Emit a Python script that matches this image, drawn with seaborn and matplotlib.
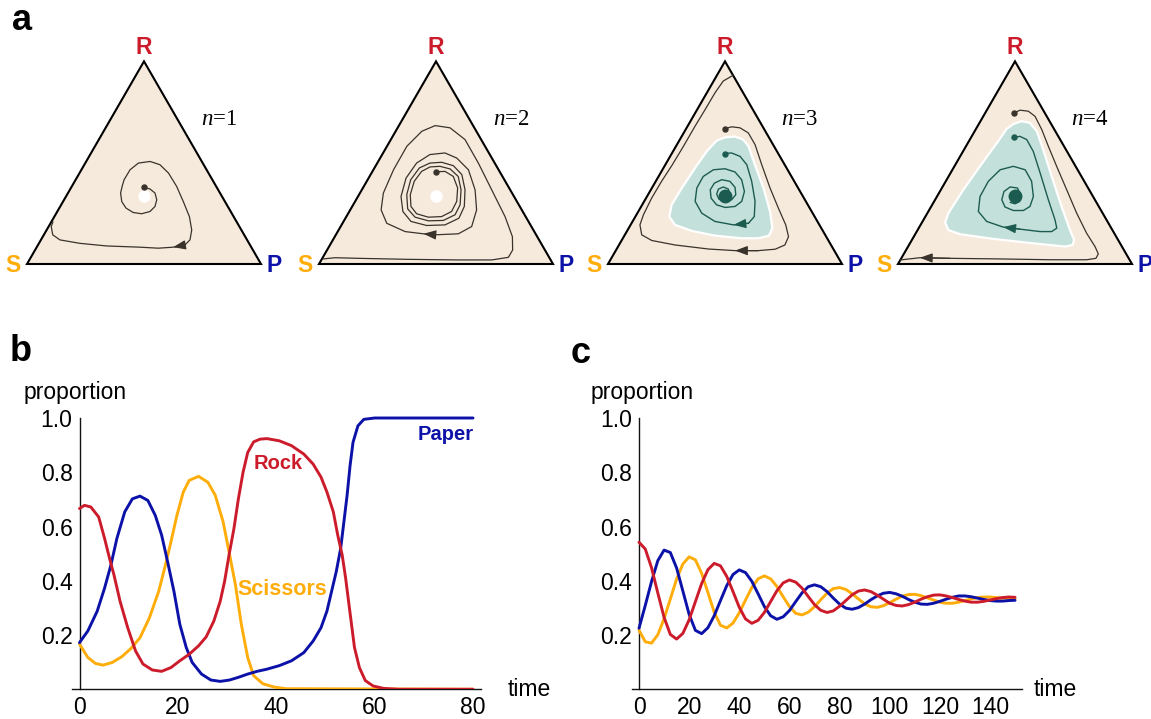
import numpy as np
import pandas as pd
import matplotlib as mpl
mpl.use("Agg")
import matplotlib.pyplot as plt
from matplotlib.patches import Polygon
from matplotlib.ticker import MultipleLocator, FixedLocator, FormatStrFormatter
import seaborn as sns

# ---------------- data ----------------
# panel a: trajectories in the simplex as (rock share, paper share)
R_N1 = [.378, .370, .350, .317, .284, .259, .248, .254, .276, .308, .350, .383, .416, .465, .498, .506, .490,
        .449, .383, .308, .234, .168, .119, .094, .083, .078, .083, .089, .102, .119, .144, .185, .208]
P_N1 = [.311, .341, .372, .396, .405, .396, .366, .327, .285, .251, .225, .215, .207, .208, .227, .273, .323,
        .380, .448, .514, .577, .620, .637, .628, .583, .522, .441, .296, .175, .081, .038, .011, .007]

R_N2 = [.455, .457, .432, .375, .309, .259, .234, .231, .248, .284, .342, .408, .457, .479, .482, .469, .432, .366,
        .292, .243, .215, .213, .231, .272, .342, .416, .474, .498, .502, .485, .441, .366,
        .284, .226, .193, .190, .210, .259, .333, .424, .498, .540, .548, .523, .465, .366,
        .267, .185, .149, .144, .149, .160, .201, .267, .350, .465, .581, .655, .683, .672, .614, .498, .366,
        .234, .135, .069, .033, .020, .020, .023, .028, .031, .025]
P_N2 = [.272, .310, .358, .405, .434, .437, .407, .352, .293, .251, .219, .203, .210, .235, .276, .326, .379, .424,
        .457, .460, .424, .361, .295, .243, .204, .184, .192, .225, .273, .332, .390, .441,
        .479, .485, .442, .365, .288, .229, .184, .160, .168, .204, .264, .327, .406, .484,
        .540, .560, .521, .424, .372, .288, .189, .132, .100, .086, .085, .112, .155, .224, .317, .432, .555,
        .678, .759, .793, .793, .728, .585, .371, .154, .053, .005]

R_N3 = [.668, .677, .672, .647, .589, .490, .375, .276, .193, .135, .094, .073, .066, .066, .074, .094, .116, .144,
        .193, .243, .325, .408, .490, .581, .680, .762, .845, .903, .931]
P_N3 = [.166, .190, .228, .276, .334, .412, .505, .590, .663, .704, .709, .678, .609, .510, .392, .239, .129, .072,
        .040, .030, .024, .025, .030, .032, .032, .034, .035, .041, .069]
R_N3_BASIN = [.625, .629, .614, .581, .490, .375, .259, .177, .140, .127, .127, .140, .163, .193, .234, .292, .375,
              .474, .556, .609]
P_N3_BASIN = [.188, .228, .271, .310, .383, .477, .563, .614, .618, .579, .508, .387, .277, .190, .145, .126, .128,
              .135, .144, .160]
R_N3_IN = [.545, .548, .531, .490, .408, .309, .234, .201, .193, .210, .251, .309, .375, .432, .465, .470, .454, .416,
           .358, .309, .284, .279, .292, .325, .366, .399, .416, .408, .378, .342, .317, .309, .320, .345, .370, .380,
           .370, .347]
P_N3_IN = [.228, .254, .299, .348, .410, .474, .508, .500, .440, .352, .275, .218, .192, .191, .218, .265, .316, .363,
           .404, .417, .401, .361, .318, .278, .254, .255, .278, .317, .354, .375, .370, .346, .314, .292, .287, .303,
           .329, .348]

R_N4 = [.746, .759, .754, .729, .663, .581, .482, .366, .251, .152, .086, .050, .028, .021, .021, .025, .028, .031, .020]
P_N4 = [.124, .142, .180, .221, .283, .352, .437, .538, .638, .730, .799, .831, .832, .796, .639, .424, .208, .078, .000]
R_N4_BASIN = [.691, .705, .696, .655, .564, .432, .284, .168, .119, .094, .086, .102, .124, .147, .168, .205, .251,
              .366, .482, .597, .667]
P_N4_BASIN = [.148, .176, .216, .266, .339, .441, .557, .651, .693, .699, .671, .527, .345, .192, .131, .099, .090,
              .096, .109, .124, .131]
R_N4_IN = [.625, .630, .614, .556, .449, .317, .218, .177, .160, .160, .172, .182, .210, .259, .333, .408, .465, .482,
           .465, .408, .333, .284, .264, .264, .281, .317, .358, .380, .375, .342, .309, .297, .304]
P_N4_IN = [.185, .206, .243, .300, .383, .484, .562, .590, .577, .527, .435, .359, .274, .214, .184, .182, .204, .252,
           .311, .367, .412, .422, .404, .361, .317, .285, .274, .289, .323, .353, .365, .352, .327]

N_LABELS = ["1", "2", "3", "4"]

# panel b: time series (own time points per species)
ROCK_T_B = [0, 1, 2.3, 3.9, 5.1, 6.1, 7, 8.25, 9.8, 11.4, 12.9, 14.8, 16.7, 18.6, 20.4, 22.3, 24.2, 25.75, 27.3,
            28.6, 29.5, 30.4, 31.4, 32.3, 33.25, 34.2, 35.4, 36.7, 38.1, 40.6, 43.1, 45.6, 47.5, 49.1, 50.3, 51.6,
            52.5, 53.4, 54.1, 54.7, 55.3, 55.9, 56.9, 58.1, 59.7, 61.9, 65, 80]
ROCK_B = [.666, .678, .672, .635, .556, .483, .422, .324, .227, .141, .093, .071, .066, .080, .105, .129, .160, .193,
          .251, .324, .398, .495, .593, .702, .800, .873, .912, .922, .924, .916, .898, .867, .830, .782, .727, .654,
          .568, .495, .410, .324, .239, .154, .080, .032, .012, .003, 0, 0]
PAPER_T_B = [0, 1.7, 3.6, 5.1, 6.4, 7.6, 9.2, 10.75, 12.3, 13.9, 15.4, 16.7, 17.9, 19.2, 20.4, 21.7, 22.9, 24.8,
             26.7, 28.6, 30.5, 32.3, 34.2, 36.1, 38.1, 40.6, 43.1, 45.6, 47.5, 49.1, 50.3, 51.25, 52.2, 53.1, 53.75,
             54.4, 55, 55.6, 56.6, 57.8, 60, 80]
PAPER_B = [.172, .215, .288, .373, .459, .556, .654, .702, .712, .696, .641, .568, .471, .361, .239, .154, .099, .056,
           .034, .029, .034, .044, .056, .066, .074, .087, .105, .135, .178, .227, .288, .361, .434, .520, .617,
           .715, .824, .910, .971, .995, 1.0, 1.0]
SCISSORS_T_B = [0, 1.7, 3.25, 4.8, 6.7, 8.6, 10.5, 12.3, 14.2, 16.1, 17.3, 18.6, 19.8, 21.1, 22.3, 24.2, 26.1, 27.6,
                29.2, 30.4, 31.7, 32.9, 34.2, 35.4, 37.3, 39.6, 42, 80]
SCISSORS_B = [.166, .117, .095, .089, .099, .120, .151, .190, .263, .361, .446, .544, .641, .727, .770, .785, .763,
              .715, .617, .507, .385, .239, .117, .050, .020, .008, .002, 0]

# panel c: time series on a common grid (every 2.5 time units, 0..150)
TIME_C = np.arange(0, 150.1, 2.5)
ROCK_C = [.542, .517, .448, .355, .265, .202, .185, .206, .256, .323,
          .390, .441, .464, .455, .416, .360, .302, .259, .243, .254,
          .283, .323, .363, .392, .403, .395, .373, .342, .312, .291,
          .283, .289, .306, .327, .348, .362, .366, .360, .347, .332,
          .317, .309, .307, .312, .321, .332, .341, .347, .348, .344,
          .338, .331, .325, .321, .321, .324, .329, .334, .338, .340, .339]
PAPER_C = [.225, .309, .397, .474, .513, .504, .447, .362, .276, .217,
           .205, .227, .271, .327, .382, .423, .440, .430, .398, .352,
           .305, .271, .258, .267, .290, .323, .355, .378, .385, .378,
           .360, .336, .314, .299, .295, .301, .314, .330, .344, .354,
           .357, .352, .343, .331, .321, .314, .313, .317, .324, .332,
           .339, .344, .344, .341, .336, .331, .327, .325, .325, .327, .328]
SCISSORS_C = [.218, .175, .170, .201, .260, .333, .406, .462, .488, .477,
              .427, .356, .284, .236, .226, .244, .282, .329, .375, .407,
              .418, .407, .379, .341, .305, .280, .274, .284, .304, .330,
              .354, .371, .375, .368, .352, .333, .315, .304, .302, .308,
              .319, .332, .343, .349, .350, .345, .337, .329, .321, .317,
              .317, .321, .327, .333, .338, .340, .340, .338, .336, .335, .335]

# ---------------- style ----------------
RED = "#cc1c2c"
BLUE = "#0c12a8"
ORANGE = "#ffad0a"
BEIGE = "#f6eadc"
TEAL_FILL = "#c4e0da"
TEAL = "#1c5c50"
BROWN = "#3a332c"
PALETTE = {"Rock": RED, "Paper": BLUE, "Scissors": ORANGE}

sns.set_style("white")
plt.rcParams['font.family'] = ['Liberation Sans', 'DejaVu Sans']
plt.rcParams['text.color'] = 'black'
plt.rcParams['xtick.color'] = 'black'
plt.rcParams['ytick.color'] = 'black'
plt.rcParams['mathtext.fontset'] = 'custom'
plt.rcParams['mathtext.it'] = 'Liberation Serif:italic'
plt.rcParams['mathtext.rm'] = 'Liberation Serif'

W, H = 1151, 719
fig = plt.figure(figsize=(W / 100, H / 100), dpi=100)


def px_axes(left, top, width, height):
    return fig.add_axes([left / W, 1 - (top + height) / H, width / W, height / H])


def fx(x):
    return x / W


def fy(y):
    return 1 - y / H


SQ3 = np.sqrt(3) / 2


def tern(r, p):
    r = np.asarray(r, dtype=float)
    p = np.asarray(p, dtype=float)
    return p + r / 2, r * SQ3


def arrow(ax, xs, ys, k, color):
    ax.annotate("", xy=(xs[k + 1], ys[k + 1]), xytext=(xs[k], ys[k]),
                arrowprops=dict(arrowstyle="-|>,head_length=0.75,head_width=0.28",
                                color=color, lw=0.9, shrinkA=0, shrinkB=0,
                                mutation_scale=10), zorder=6)


##########
# PANEL a
##########
S_LEFT = [27, 319, 608, 898]
outer = [(R_N1, P_N1, 23), (R_N2, P_N2, 49), (R_N3, P_N3, 12), (R_N4, P_N4, 16)]
basins = [None, None, (R_N3_BASIN, P_N3_BASIN, R_N3_IN, P_N3_IN, 7),
          (R_N4_BASIN, P_N4_BASIN, R_N4_IN, P_N4_IN, 10)]

for i, sx in enumerate(S_LEFT):
    ax = px_axes(sx - 25, 30, 285, 260)
    ax.set_xlim(-25 / 234, 260 / 234)
    ax.set_ylim(-26 / 234, 1.0)
    ax.axis("off")
    tri = Polygon([(0, 0), (1, 0), (0.5, SQ3)], closed=True, facecolor=BEIGE,
                  edgecolor="black", lw=1.5, joinstyle="miter", zorder=1)
    ax.add_patch(tri)

    if basins[i] is not None:
        rb, pb, ri, pi_, ka = basins[i]
        bx, by = tern(rb, pb)
        ax.add_patch(Polygon(np.column_stack([bx, by]), closed=True, facecolor=TEAL_FILL,
                             edgecolor="white", lw=1.6, joinstyle="round", zorder=2))
        ix, iy = tern(ri, pi_)
        sns.lineplot(x=ix, y=iy, sort=False, estimator=None, color=TEAL, lw=1.0, ax=ax, zorder=4)
        ax.plot(ix[0], iy[0], "o", ms=3.6, color=TEAL, zorder=5)
        arrow(ax, ix, iy, ka, TEAL)
        cx, cy = tern([1 / 3], [1 / 3])
        ax.plot(cx, cy, "o", ms=9, color=TEAL, zorder=5)
    else:
        cx, cy = tern([1 / 3], [1 / 3])
        ax.plot(cx, cy, "o", ms=8, color="white", mec="white", zorder=5)

    ro, po, ko = outer[i]
    ox, oy = tern(ro, po)
    sns.lineplot(x=ox, y=oy, sort=False, estimator=None, color=BROWN, lw=0.9, ax=ax, zorder=4)
    ax.plot(ox[0], oy[0], "o", ms=3.6, color=BROWN, zorder=5)
    arrow(ax, ox, oy, ko, BROWN)

    ax.text(0.5, 0.925, "R", color=RED, fontsize=16.5, fontweight="bold", ha="center", va="center")
    ax.text(-0.058, -0.006, "S", color=ORANGE, fontsize=16.5, fontweight="bold", ha="center", va="center")
    ax.text(1.058, -0.006, "P", color=BLUE, fontsize=16.5, fontweight="bold", ha="center", va="center")
    ax.text(0.82, 0.617, r"$n$=" + N_LABELS[i], fontsize=16.5, family="Liberation Serif",
            ha="center", va="center")


##########
# PANELS b, c
##########
def style_axes(ax, xmajor, xminor, xlim):
    ax.set_xlim(*xlim)
    ax.set_ylim(0, 1.03)
    for s in ["top", "right"]:
        ax.spines[s].set_visible(False)
    ax.spines["left"].set_position(("data", 0))
    ax.spines["bottom"].set_position(("data", 0))
    ax.spines["left"].set_bounds(0, 1.0)
    for s in ["left", "bottom"]:
        ax.spines[s].set_color("#111111")
        ax.spines[s].set_linewidth(1.0)
        ax.spines[s].set_zorder(1)
    ax.xaxis.set_major_locator(MultipleLocator(xmajor))
    ax.xaxis.set_minor_locator(MultipleLocator(xminor))
    ax.yaxis.set_major_locator(FixedLocator([0.2, 0.4, 0.6, 0.8, 1.0]))
    ax.yaxis.set_minor_locator(FixedLocator([i * 0.05 for i in range(1, 21)]))
    ax.yaxis.set_major_formatter(FormatStrFormatter("%.1f"))
    ax.tick_params(which="major", direction="in", length=5, width=0.9, labelsize=16.5,
                   color="#111111", pad=5)
    ax.tick_params(which="minor", direction="in", length=3, width=0.8, color="#111111")
    ax.set_xlabel("")
    ax.set_ylabel("")
    ax.patch.set_alpha(0)


# panel b
df_b = pd.concat([
    pd.DataFrame({"time": SCISSORS_T_B, "proportion": SCISSORS_B, "species": "Scissors"}),
    pd.DataFrame({"time": PAPER_T_B, "proportion": PAPER_B, "species": "Paper"}),
    pd.DataFrame({"time": ROCK_T_B, "proportion": ROCK_B, "species": "Rock"}),
], ignore_index=True)

x0_b, ppu_b = 79.5, 4.919
xlim_b = (-1.6, 81.6)
axb = px_axes(x0_b + xlim_b[0] * ppu_b, 689.25 - 1.03 * 271.25,
              (xlim_b[1] - xlim_b[0]) * ppu_b, 1.03 * 271.25)
sns.lineplot(data=df_b, x="time", y="proportion", hue="species", palette=PALETTE,
             hue_order=["Scissors", "Paper", "Rock"], estimator=None, lw=2.1,
             legend=False, ax=axb, zorder=3)
style_axes(axb, 20, 5, xlim_b)
axb.text(40.4, 0.834, "Rock", color=RED, fontsize=14.5, fontweight="bold", ha="center", va="center")
axb.text(41.2, 0.369, "Scissors", color=ORANGE, fontsize=15.5, fontweight="bold", ha="center", va="center")
axb.text(74.5, 0.941, "Paper", color=BLUE, fontsize=14.5, fontweight="bold", ha="center", va="center")

# panel c
df_c = pd.concat([
    pd.DataFrame({"time": TIME_C, "proportion": SCISSORS_C, "species": "Scissors"}),
    pd.DataFrame({"time": TIME_C, "proportion": PAPER_C, "species": "Paper"}),
    pd.DataFrame({"time": TIME_C, "proportion": ROCK_C, "species": "Rock"}),
], ignore_index=True)

x0_c, ppu_c = 639, 2.507
xlim_c = (-2.8, 152.8)
axc = px_axes(x0_c + xlim_c[0] * ppu_c, 689.25 - 1.03 * 271.25,
              (xlim_c[1] - xlim_c[0]) * ppu_c, 1.03 * 271.25)
sns.lineplot(data=df_c, x="time", y="proportion", hue="species", palette=PALETTE,
             hue_order=["Scissors", "Paper", "Rock"], estimator=None, lw=2.1,
             legend=False, ax=axc, zorder=3)
style_axes(axc, 20, 5, xlim_c)

# axis captions and panel letters
fig.text(fx(24), fy(393), "proportion", fontsize=16.5, ha="left", va="center")
fig.text(fx(591), fy(393), "proportion", fontsize=16.5, ha="left", va="center")
fig.text(fx(508), fy(689), "time", fontsize=16.5, ha="left", va="center")
fig.text(fx(1034), fy(689), "time", fontsize=16.5, ha="left", va="center")
fig.text(fx(22), fy(20), "a", fontsize=26, fontweight="bold", ha="center", va="center")
fig.text(fx(21), fy(352), "b", fontsize=26, fontweight="bold", ha="center", va="center")
fig.text(fx(581), fy(354), "c", fontsize=26, fontweight="bold", ha="center", va="center")

fig.savefig("out.png", dpi=100)
